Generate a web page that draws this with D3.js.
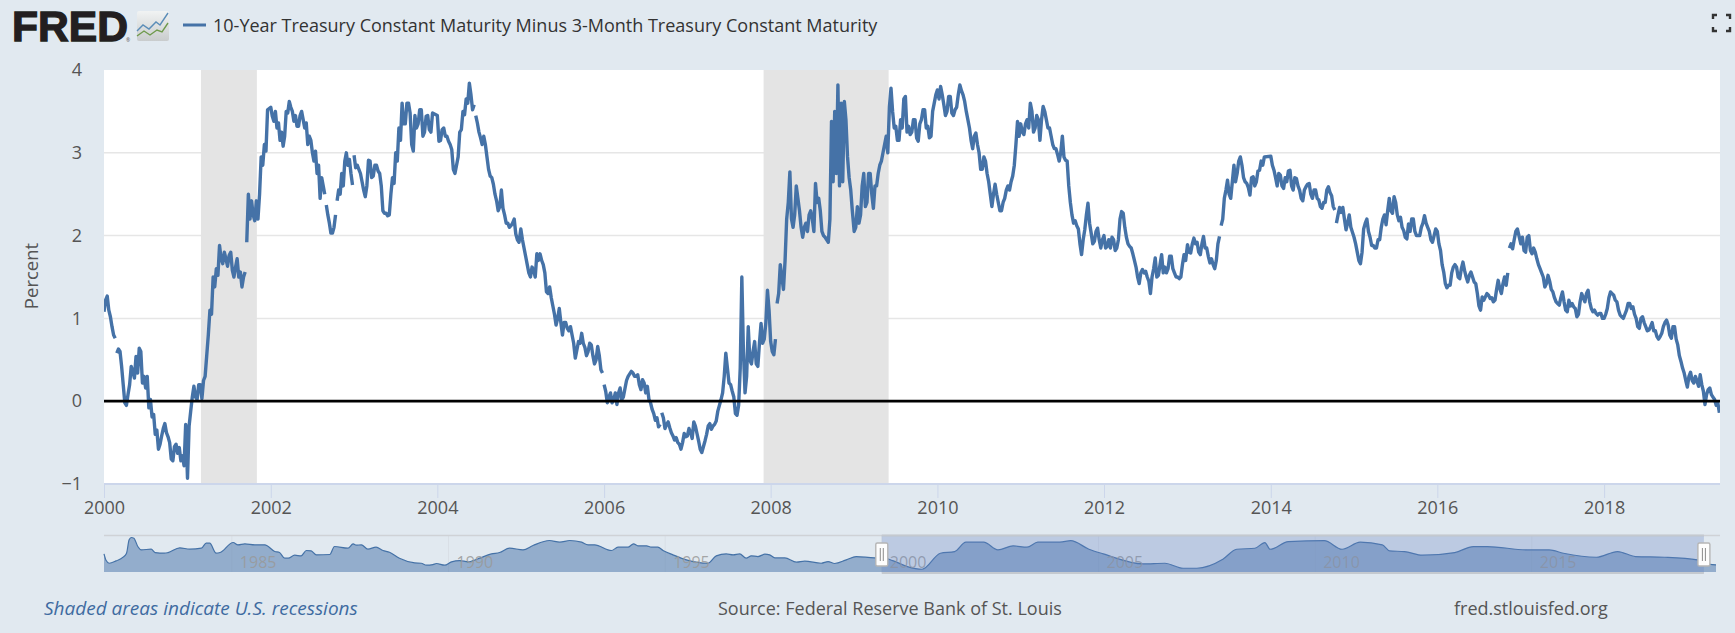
<!DOCTYPE html>
<html><head><meta charset="utf-8">
<script src="https://cdn.jsdelivr.net/npm/d3@7"></script>
<style>
html,body{margin:0;padding:0;background:#e1e9f0;}
svg{display:block;font-family:"Open Sans",sans-serif;}
</style></head><body>
<svg id="c" width="1735" height="633"></svg>
<script>
// ---- data: weekly readings, null = break in the published series (takes no slot)
const values2000=[1.08,1.22,1.27,1.1,1.02,.9,.8,.76,null,.58,.63,.6,.42,.2,-.02,-.05,.08,.2,.42,.36,.28,.54,.34,.64,.6,.22,.3,.16,.3,-.08,.02,-.19,-.16,-.4,-.35,-.58,-.52,-.42,-.33,-.27,-.38,-.43,-.5,-.7,-.72,-.55,-.52,-.63,-.56,-.72,-.66,-.78,-.28];
const values2001=[-.93,-.3,-.12,.05,.18,.05,.02,.2,.2,.03,.25,.3,.55,.8,1.1,1.05,1.5,1.38,1.6,1.52,1.88,1.72,1.66,1.8,1.72,1.63,1.76,1.8,1.58,1.5,1.62,1.72,1.5,1.56,1.38,1.5,1.56,null,1.92,2.5,2.2,2.42,2.25,2.18,2.42,2.2,2.5,2.95,2.85,3.1,3.02,3.52];
const values2002=[3.55,3.44,3.38,3.5,3.3,3.36,3.15,3.25,3.08,3.2,3.5,3.48,3.62,3.55,3.5,3.38,3.45,3.32,3.32,3.45,3.5,3.4,3.3,3.36,3.1,3.2,3.15,3.0,2.9,3.02,2.75,2.85,2.45,2.7,2.6,2.5,null,2.37,2.25,2.15,2.03,2.03,2.1,2.25,null,2.42,2.55,2.5,2.75,2.6,2.9,3.0,2.85,2.92,2.75,2.61];
const values2003=[null,2.97,2.82,2.85,2.8,2.75,2.65,2.55,2.47,2.6,2.91,2.9,2.7,2.72,2.85,2.85,2.78,2.75,2.6,2.3,2.27,2.27,2.24,2.25,2.5,2.7,2.63,3.0,2.9,3.3,3.15,3.6,3.35,3.35,3.6,3.6,3.48,3.1,3.02,3.45,3.3,3.35,3.52,3.52,3.2,3.25,3.44,3.45,3.28,3.25,3.48];
const values2004=[3.45,3.14,3.15,3.28,3.3,3.2,3.2,3.14,3.1,3.04,2.8,2.75,2.85,2.95,3.25,3.28,3.5,3.46,3.65,3.6,3.84,3.7,3.52,3.58,null,3.45,3.36,3.25,3.18,3.1,3.2,3.1,2.95,2.8,2.72,2.7,2.62,2.5,2.42,2.3,2.35,2.55,2.33,2.25,2.15,2.15,2.1,2.12,2.15,2.2,2.02,1.95,1.92];
const values2005=[2.08,1.95,1.85,1.75,1.65,1.55,1.5,1.62,1.58,1.5,1.78,1.7,1.78,1.7,1.65,1.55,1.32,1.3,1.38,1.25,1.15,1.05,.92,1.0,1.12,.95,.8,.95,.95,.88,.85,.9,.8,.7,.52,.62,.72,.7,.82,.7,.65,.55,.6,.7,.68,.55,.45,.5,.66,.55,.38,.34,null];
const values2006=[.2,.12,-.02,.05,.1,-.02,.02,.1,-.04,.1,.16,.02,.05,.15,.25,.3,.33,.36,.34,.3,.3,.32,.2,.14,.26,.22,.1,.18,.02,-.02,-.1,-.15,-.23,-.2,-.31,-.28,null,-.14,-.2,-.33,-.28,-.25,-.32,-.38,-.42,-.47,-.44,-.5,-.52,-.58,-.5,-.39,-.43];
const values2007=[-.42,-.33,-.38,-.45,-.25,-.3,-.39,-.48,-.58,-.62,-.55,-.48,-.4,-.3,-.27,-.34,-.3,-.28,-.24,-.12,-.05,.02,.1,.3,.58,.4,.22,.2,.12,.05,-.15,-.17,-.05,.4,1.5,.6,.1,.3,.9,.5,.45,.6,.72,.45,.42,.7,.94,.7,.75,.95,1.34,1.1];
const values2008=[.72,.6,.56,.75,null,1.18,1.3,1.65,1.5,1.35,1.7,2.2,2.4,2.77,2.2,2.1,2.25,2.6,2.45,2.3,2.1,1.98,2.1,2.15,2.05,2.25,2.3,2.2,2.05,2.63,2.4,2.45,2.3,2.05,2.0,1.98,1.95,1.92,2.2,3.38,2.65,3.5,2.75,3.82,2.6,3.6,2.65,3.62,3.4,2.95,2.7,2.55,2.3];
const values2009=[2.05,2.1,2.35,2.15,2.25,2.6,2.75,2.35,2.4,2.75,2.75,2.5,2.33,2.6,2.6,2.75,2.85,2.9,3.0,3.1,3.2,3.0,3.55,3.78,3.5,3.3,3.32,3.15,3.15,3.4,3.3,3.65,3.68,3.25,3.32,3.22,3.25,3.4,3.4,3.18,3.14,3.35,3.4,3.52,3.52,3.3,3.32,3.18,3.2,3.5,3.6,3.7];
const values2010=[3.76,3.65,3.8,3.7,3.58,3.45,3.5,3.68,3.68,3.48,3.45,3.52,3.55,3.7,3.82,3.75,3.7,3.62,3.5,3.4,3.3,3.15,3.05,3.2,3.24,3.1,3.0,2.8,2.8,2.95,2.9,2.75,2.65,2.5,2.35,2.5,2.62,2.5,2.4,2.3,2.3,2.4,2.45,2.55,2.6,2.55,2.65,2.72,2.85,3.1,3.38,3.2];
const values2011=[3.35,3.25,3.22,3.35,3.4,3.3,3.6,3.5,3.25,3.3,3.45,3.4,3.15,3.4,3.56,3.5,3.4,3.3,3.3,3.2,3.1,3.05,3.05,2.98,2.9,3.0,3.2,2.95,2.91,2.9,2.6,2.4,2.25,2.15,2.18,2.12,2.08,1.9,1.77,1.95,2.07,2.25,2.39,2.15,2.03,1.9,1.93,2.05,2.09,1.95,1.85,1.95];
const values2012=[2.0,1.85,1.87,1.95,1.85,1.98,1.95,1.82,1.85,1.95,2.2,2.29,2.27,2.1,1.98,1.9,1.87,1.85,1.78,1.7,1.62,1.5,1.42,1.55,1.59,1.55,1.57,1.5,1.45,1.3,1.5,1.6,1.73,1.5,1.52,1.65,1.77,1.55,1.62,1.55,1.6,1.75,1.75,1.6,1.55,1.5,1.5,1.48,1.5,1.65,1.77,1.7];
const values2013=[1.89,1.8,1.79,1.9,1.97,1.9,1.92,1.8,1.77,1.9,1.99,1.85,1.85,1.75,1.67,1.72,1.65,1.6,1.7,1.9,1.99,null,2.12,2.2,2.45,2.55,2.67,2.5,2.45,2.65,2.85,2.65,2.75,2.9,2.95,2.85,2.7,2.65,2.63,2.58,2.49,2.7,2.71,2.6,2.65,2.78,2.79,2.9,2.85,2.95];
const values2014=[2.96,2.85,2.79,2.7,2.6,2.75,2.73,2.6,2.57,2.7,2.65,2.78,2.79,2.6,2.55,2.7,2.69,2.6,2.55,2.45,2.42,2.55,2.59,2.62,2.63,2.5,2.45,2.55,2.55,2.45,2.43,2.35,2.33,2.4,2.4,2.55,2.59,2.52,2.48,2.35,2.31,null,2.15,2.25,2.34,2.28,2.34,2.2,2.07,2.15,2.25,2.1];
const values2015=[1.98,1.9,1.8,1.7,1.66,1.8,2.08,2.15,2.2,2.05,1.98,1.88,1.88,1.85,1.85,1.95,1.95,2.1,2.2,2.25,2.13,2.3,2.45,2.3,2.27,2.47,2.4,2.25,2.18,2.22,2.1,2.06,1.98,1.96,2.14,2.05,2.2,2.2,2.05,2.0,2.0,2.0,2.1,2.15,2.24,2.15,2.1,2.05,1.95,1.92,2.0,2.08];
const values2016=[2.05,1.9,1.82,1.65,1.56,1.42,1.37,1.4,1.4,1.55,1.62,1.65,1.62,1.5,1.48,1.6,1.68,1.58,1.5,1.44,1.52,1.56,1.5,1.44,1.42,1.3,1.15,1.1,1.26,1.22,1.26,1.3,1.28,1.24,1.25,1.2,1.22,1.35,1.46,1.36,1.3,1.42,1.5,1.4,1.55,null,1.85,1.9,1.84,1.95,2.05,2.08];
const values2017=[1.9,1.98,1.82,1.8,1.98,2.0,1.82,1.78,1.85,1.8,1.72,1.65,1.6,1.55,1.5,1.38,1.42,1.52,1.45,1.35,1.32,1.25,1.2,1.18,1.16,1.25,1.32,1.2,1.1,1.08,1.22,1.15,1.18,1.14,1.12,1.02,1.05,1.2,1.3,1.25,1.2,1.3,1.34,1.2,1.12,1.08,1.1,1.06,1.04,1.06,1.06,1.0];
const values2018=[1.0,1.05,1.12,1.25,1.32,1.3,1.28,1.22,1.2,1.1,1.04,1.02,1.0,1.05,1.1,1.18,1.18,1.12,1.14,1.05,1.0,.9,.88,1.0,1.02,.95,.9,.85,.86,.9,.95,.85,.85,.78,.75,.78,.82,.9,.95,.98,.92,.8,.76,.9,.9,.75,.68,.55,.48,.4,.34,.25];
const values2019=[.17,.3,.35,.25,.22,.3,.24,.18,.32,.2,.12,-.04,.08,.14,.16,.08,.05,.02,-.05,-.02,-.14];
const years=[2000,2001,2002,2003,2004,2005,2006,2007,2008,2009,2010,2011,2012,2013,2014,2015,2016,2017,2018,2019];
const yearValues=[values2000,values2001,values2002,values2003,values2004,values2005,values2006,values2007,values2008,values2009,values2010,values2011,values2012,values2013,values2014,values2015,values2016,values2017,values2018,values2019];

const recessionStarts=["2001-03-01","2007-12-01"];
const recessionEnds=["2001-11-01","2009-06-01"];
const yTicks=[-1,0,1,2,3,4];

// navigator series (decimal year, value)
const navYears=[1982.05,1982.10,1982.17,1982.33,1982.49,1982.57,1982.63,1982.68,1982.74,1982.83,1982.91,1983.14,1983.23,1983.45,1983.53,1983.80,1984.03,1984.30,1984.41,1984.49,1984.64,1984.73,1985.03,1985.14,1985.30,1985.53,1985.76,1985.99,1986.10,1986.22,1986.30,1986.45,1986.60,1986.72,1986.83,1986.95,1987.26,1987.37,1987.68,1987.80,1987.87,1987.99,1988.14,1988.33,1988.49,1988.64,1988.87,1989.22,1989.37,1989.49,1989.64,1989.72,1989.91,1990.07,1990.26,1990.45,1990.57,1990.72,1990.99,1991.18,1991.41,1991.72,1991.95,1992.33,1992.57,1992.80,1993.07,1993.22,1993.37,1993.76,1993.91,1994.14,1994.27,1994.37,1994.57,1994.68,1994.83,1994.95,1995.18,1995.49,1995.99,1996.18,1996.41,1996.57,1996.72,1996.87,1996.99,1997.14,1997.30,1997.41,1997.53,1997.76,1998.03,1998.22,1998.60,1998.76,1998.91,1999.18,1999.41,1999.83,1999.98,2000.25,2000.59,2000.93,2001.35,2001.68,2001.94,2002.35,2002.68,2003.03,2003.35,2003.60,2004.11,2004.36,2004.78,2005.11,2006.03,2006.53,2006.95,2007.27,2007.87,2008.19,2008.61,2008.84,2008.96,2009.38,2010.21,2010.62,2011.04,2011.55,2011.72,2012.06,2012.48,2013.22,2013.65,2013.97,2014.90,2015.40,2015.73,2016.49,2016.98,2017.39,2018.06,2018.82,2018.99,2019.25];
const navValues=[1.72,.57,.11,.52,1.15,1.84,4.14,4.54,4.42,2.99,2.41,2.53,1.95,1.84,1.95,2.76,2.53,2.7,3.56,3.56,1.84,1.95,3.68,3.28,3.45,3.28,3.28,2.13,1.95,.98,.98,1.49,1.38,2.3,2.24,1.55,1.61,2.99,2.7,3.45,3.22,3.28,2.53,2.87,2.3,2.01,.98,.17,.11,-.23,-.12,.06,-.23,.35,.57,.35,.57,.98,1.72,1.95,2.7,2.41,3.16,4.02,3.74,4.02,3.74,3.28,3.28,2.3,2.87,2.87,3.45,3.1,3.1,2.87,2.87,2.3,1.55,.69,.11,1.38,1.72,1.55,1.72,.98,1.38,1.26,1.67,1.55,1.03,1.03,.29,.46,.11,.4,.06,.69,1.26,1.03,1.14,.57,-.47,-.93,1.83,2.12,3.73,3.73,2.4,3.1,2.87,3.73,3.73,4.0,2.52,1.72,0,.11,-.75,-.75,.8,2.52,2.69,3.67,2.52,3.84,4.0,2.52,3.73,3.27,2.23,2.12,1.49,1.95,2.98,2.98,2.4,2.4,1.83,1.14,2.12,1.26,1.14,.68,.11,-.18];
const selectedStart=2000.0, selectedEnd=2018.97;

const titleText="10-Year Treasury Constant Maturity Minus 3-Month Treasury Constant Maturity";
const yLabel="Percent";
const noteText="Shaded areas indicate U.S. recessions";
const sourceText="Source: Federal Reserve Bank of St. Louis";
const siteText="fred.stlouisfed.org";

// ---- build
const series=[];
years.forEach((y,k)=>{
  const arr=yearValues[k], len=Math.max(arr.filter(v=>v!==null).length,52), dayMs=864e5;
  const start=Date.UTC(y,0,1);let slot=0;
  arr.forEach(v=>{
    if(v===null){series.push({date:new Date(start+Math.max(slot-1,0)/len*365*dayMs),value:null});}
    else{series.push({date:new Date(start+slot/len*365*dayMs),value:v});slot++;}
  });
});
const fromDecimal=d=>{const y=Math.floor(d);return new Date(Date.UTC(y,0,1)+(d-y)*365.25*864e5);};
const navData=navYears.map((y,i)=>({date:fromDecimal(y),value:navValues[i]}));

const BLUE="#4572a7", BG="#e1e9f0";
const plot={l:104,r:1720,t:70,b:484};
const x=d3.scaleUtc().domain([new Date(Date.UTC(2000,0,1)),new Date(Date.UTC(2019,4,24))]).range([plot.l,plot.r]);
const y=d3.scaleLinear().domain([-1,4]).range([plot.b,plot.t]);
const svg=d3.select("#c");
svg.append("rect").attr("width",1735).attr("height",633).attr("fill",BG);
svg.append("defs").append("clipPath").attr("id","pc").append("rect")
  .attr("x",plot.l).attr("y",plot.t).attr("width",plot.r-plot.l).attr("height",plot.b-plot.t);
svg.append("rect").attr("x",plot.l).attr("y",plot.t).attr("width",plot.r-plot.l).attr("height",plot.b-plot.t).attr("fill","#fff");

// gridlines + y axis
const ya=svg.append("g").attr("transform",`translate(${plot.l},0)`)
  .call(d3.axisLeft(y).tickValues(yTicks).tickFormat(d3.format("d")).tickSize(0).tickPadding(22));
ya.select(".domain").remove();
ya.selectAll("text").attr("font-size",18).attr("fill","#555").attr("font-family",'"Open Sans",sans-serif');
svg.append("g").selectAll("line").data(yTicks.filter(t=>t>-1&&t<4)).join("line")
  .attr("x1",plot.l).attr("x2",plot.r).attr("y1",d=>y(d)).attr("y2",d=>y(d))
  .attr("stroke","#e6e6e6").attr("stroke-width",1.5);

// recessions
svg.append("g").selectAll("rect").data(recessionStarts).join("rect")
  .attr("x",d=>x(new Date(d))).attr("width",(d,i)=>x(new Date(recessionEnds[i]))-x(new Date(d)))
  .attr("y",plot.t).attr("height",plot.b-plot.t).attr("fill","#e4e4e4");

// x axis
const xa=svg.append("g").attr("transform",`translate(0,${plot.b})`)
  .call(d3.axisBottom(x).ticks(d3.utcYear.every(2)).tickFormat(d3.utcFormat("%Y")).tickSize(14).tickPadding(3.5));
xa.select(".domain").attr("d",`M${plot.l},0H${plot.r}`).attr("stroke","#ccd6eb").attr("stroke-width",2);
xa.selectAll(".tick line").attr("stroke","#ccd6eb").attr("stroke-width",1);
xa.selectAll("text").attr("font-size",18).attr("fill","#555").attr("font-family",'"Open Sans",sans-serif');

// series
const line=d3.line().defined(d=>d.value!==null).x(d=>x(d.date)).y(d=>y(d.value));
svg.append("path").datum(series).attr("clip-path","url(#pc)").attr("d",line)
  .attr("fill","none").attr("stroke",BLUE).attr("stroke-width",3.4).attr("stroke-linejoin","round");

// zero line
svg.append("line").attr("x1",plot.l).attr("x2",plot.r).attr("y1",y(0)).attr("y2",y(0))
  .attr("stroke","#000").attr("stroke-width",2.8);

// y label
svg.append("text").attr("transform","translate(38,276) rotate(-90)").attr("text-anchor","middle")
  .attr("font-size",18.5).attr("fill","#555").text(yLabel);

// navigator
const nx=d3.scaleUtc().domain([fromDecimal(1982.05),fromDecimal(2019.25)]).range([104,1716]);
const ny=d3.scaleLinear().domain([-1.4,4.54]).range([572,537.5]);
const nav=svg.append("g");
nav.selectAll(".gl").data(nx.ticks(d3.utcYear.every(5))).join("line")
  .attr("x1",d=>nx(d)).attr("x2",d=>nx(d)).attr("y1",536).attr("y2",572).attr("stroke","#d9dfe6").attr("stroke-width",1);
nav.append("path").datum(navData)
  .attr("d",d3.area().x(d=>nx(d.date)).y0(ny(-1.4)).y1(d=>ny(d.value)).curve(d3.curveMonotoneX))
  .attr("fill",BLUE).attr("fill-opacity",.5);
nav.append("path").datum(navData)
  .attr("d",d3.line().x(d=>nx(d.date)).y(d=>ny(d.value)).curve(d3.curveMonotoneX))
  .attr("fill","none").attr("stroke",BLUE).attr("stroke-width",1.2);
nav.selectAll(".lb").data(nx.ticks(d3.utcYear.every(5))).join("text")
  .attr("x",d=>nx(d)+8).attr("y",568).attr("font-size",16).attr("fill","#999").attr("fill-opacity",.85).text(d3.utcFormat("%Y"));
nav.append("line").attr("x1",104).attr("x2",1720).attr("y1",535.5).attr("y2",535.5).attr("stroke","#cfd2d6").attr("stroke-width",1.5);
const sx0=nx(fromDecimal(selectedStart)),sx1=nx(fromDecimal(selectedEnd));
nav.append("rect").attr("x",sx0).attr("y",535.5).attr("width",sx1-sx0).attr("height",37.5).attr("fill","#6685c2").attr("fill-opacity",.3);
nav.append("line").attr("x1",sx0).attr("x2",sx1).attr("y1",573).attr("y2",573).attr("stroke","#c4c9cf").attr("stroke-width",2);
nav.append("line").attr("x1",sx0).attr("x2",sx1).attr("y1",535.5).attr("y2",535.5).attr("stroke","#c4c9cf").attr("stroke-width",2);
[sx0,sx1].forEach(hx=>{
  const h=nav.append("g").attr("transform",`translate(${hx},0)`);
  h.append("rect").attr("x",-6).attr("y",543).attr("width",12).attr("height",23).attr("rx",1.5)
    .attr("fill","#fdfdfd").attr("stroke","#b5b5b5").attr("stroke-width",1.4);
  [-1.5,1.5].forEach(o=>h.append("line").attr("x1",o).attr("x2",o).attr("y1",548).attr("y2",561).attr("stroke","#8a8a8a").attr("stroke-width",1));
});

// footer
svg.append("text").attr("x",44).attr("y",615).attr("font-size",19).attr("font-style","italic").attr("fill","#3e6ba1").text(noteText);
svg.append("text").attr("x",718).attr("y",615).attr("font-size",18).attr("fill","#555").text(sourceText);
svg.append("text").attr("x",1454).attr("y",615).attr("font-size",18).attr("fill","#555").text(siteText);

// header: logo, icon, legend, title
svg.append("text").attr("x",12).attr("y",41).attr("font-family",'"Liberation Sans",sans-serif').attr("font-weight",700)
  .attr("font-size",42).attr("textLength",116).attr("lengthAdjust","spacingAndGlyphs").attr("fill","#231f20").attr("stroke","#231f20").attr("stroke-width",1.3).text("FRED");
svg.append("text").attr("x",126).attr("y",42).attr("font-size",5).attr("fill","#555").text("®");
const grad=svg.select("defs").append("linearGradient").attr("id","ig").attr("x1",0).attr("y1",0).attr("x2",0).attr("y2",1);
grad.append("stop").attr("offset",0).attr("stop-color","#f1f3f3");
grad.append("stop").attr("offset",1).attr("stop-color","#c9cccd");
svg.append("rect").attr("x",137).attr("y",11).attr("width",32).attr("height",30).attr("rx",2).attr("fill","url(#ig)");
svg.append("path").attr("d","M137,31L143,25L149,29L156,22L160,25L168,13").attr("fill","none").attr("stroke","#5b8db8").attr("stroke-width",1.4);
svg.append("path").attr("d","M137,36L144,31L150,35L157,30L162,32L168,23").attr("fill","none").attr("stroke","#6f9a4d").attr("stroke-width",1.4);
svg.append("line").attr("x1",183).attr("x2",206).attr("y1",25).attr("y2",25).attr("stroke",BLUE).attr("stroke-width",3);
svg.append("text").attr("x",213).attr("y",32).attr("font-size",18).attr("fill","#333").text(titleText);

// fullscreen icon
const corners=["M1713,19V15H1717","M1726,15H1730V19","M1713,27V31H1717","M1726,31H1730V27"];
svg.append("g").selectAll("path").data(corners).join("path").attr("d",d=>d).attr("fill","none").attr("stroke","#333").attr("stroke-width",2.4);
</script>
</body></html>
